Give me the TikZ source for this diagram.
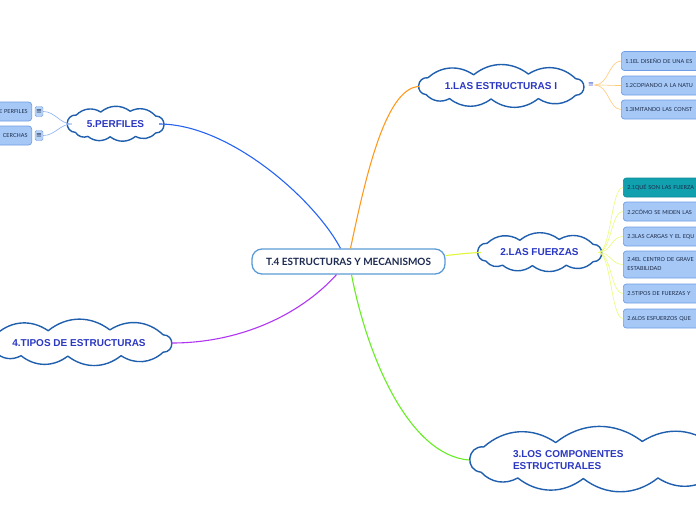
\documentclass[tikz,border=0pt]{standalone}
\usepackage{fontspec}
\setmainfont{Liberation Sans}
\newfontfamily\latofont{Lato}
\newfontfamily\djv{DejaVu Sans}
\definecolor{cloudline}{HTML}{1F5FAE}
\definecolor{cloudtext}{HTML}{2B38C2}
\definecolor{boxfill}{HTML}{A6C8F6}
\definecolor{boxline}{HTML}{6E9DE6}
\definecolor{boxtext}{HTML}{1B2A48}
\definecolor{tealfill}{HTML}{11A0AE}
\definecolor{tealline}{HTML}{0B8C9A}
\definecolor{centerline}{HTML}{5B9BD5}
\definecolor{centertext}{HTML}{1C2A50}
\definecolor{cblue}{HTML}{2563F0}
\definecolor{corange}{HTML}{FF9A1F}
\definecolor{cyellow}{HTML}{E2F53A}
\definecolor{cgreen}{HTML}{66EE22}
\definecolor{cpurple}{HTML}{B035F2}
\definecolor{lorange}{HTML}{FFC878}
\definecolor{lyellow}{HTML}{EAFA7A}
\definecolor{lblue}{HTML}{8AB0F2}
\definecolor{iconfill}{HTML}{B8D3F8}
\definecolor{iconblue}{HTML}{3A55D0}
\tikzset{
  cloudstroke/.style={draw=cloudline, line width=1.4pt, fill=white, line join=round},
  sidebump/.style={bend left=90, looseness=1.7},
  topbump/.style={bend left=38},
  cloudtextnode/.style={rectangle, inner sep=0pt,
    font=\bfseries\fontsize{10}{12}\selectfont, text=cloudtext},
  centerbox/.style={rectangle, rounded corners=10pt, draw=centerline, line width=1.3pt,
    fill=white, minimum width=193pt, minimum height=25pt,
    font=\latofont\bfseries\fontsize{10}{11}\selectfont, text=centertext},
  subbox/.style={rectangle, rounded corners=3pt, draw=boxline, line width=0.7pt,
    fill=boxfill, minimum height=19pt, text width=92pt, inner xsep=4pt, align=left,
    font=\latofont\fontsize{5.5}{9}\selectfont, text=boxtext, anchor=west},
  leftbox/.style={rectangle, rounded corners=3pt, draw=boxline, line width=0.7pt,
    fill=boxfill, minimum height=19pt, text width=64pt, inner xsep=4pt, align=right,
    font=\latofont\fontsize{5.5}{9}\selectfont, text=boxtext, anchor=east},
  iconbox/.style={rectangle, rounded corners=1.5pt, fill=iconfill, draw=boxline, line width=0.4pt,
    minimum width=8pt, minimum height=10pt, inner sep=0pt, font=\djv\fontsize{7}{7}\selectfont, text=boxtext},
  iconplain/.style={inner sep=0.5pt, font=\djv\fontsize{7}{7}\selectfont, text=iconblue},
  mainlink/.style={line width=1.1pt},
  sublink/.style={line width=0.6pt}
}
% #1 x, #2 y, #3 half width, #4 half height
\newcommand\cloudoutline[4]{%
  \draw[cloudstroke] ({#1-0.9*#3},{#2+0.42*#4}) to[sidebump] ({#1-0.88*#3},{#2-0.45*#4})
    to[topbump] ({#1-0.33*#3},{#2-0.6*#4}) to[topbump] ({#1+0.33*#3},{#2-0.64*#4})
    to[topbump] ({#1+0.9*#3},{#2-0.4*#4})
    to[sidebump] ({#1+0.9*#3},{#2+0.45*#4}) to[topbump] ({#1+0.45*#3},{#2+0.62*#4})
    to[topbump] ({#1-0.12*#3},{#2+0.64*#4}) to[topbump] ({#1-0.62*#3},{#2+0.62*#4})
    to[topbump] ({#1-0.9*#3},{#2+0.42*#4}) -- cycle;}
\begin{document}
\begin{tikzpicture}[x=1pt,y=-1pt]
\useasboundingbox (0,0) rectangle (696,520);
% central
\node[centerbox] (c) at (348.5,261.5) {T.4 ESTRUCTURAS Y MECANISMOS};
% clouds
\cloudoutline{501}{86.5}{83}{19.5}
\node[cloudtextnode, minimum width=164pt, minimum height=39pt] (cl1) at (501,86.5) {1.LAS ESTRUCTURAS I};
\cloudoutline{539.5}{252.5}{59.5}{20.5}
\node[cloudtextnode, minimum width=117pt, minimum height=41pt] (cl2) at (539.5,252.5) {2.LAS FUERZAS};
\cloudoutline{599}{460}{131}{29}
\node[cloudtextnode, minimum width=260pt, minimum height=58pt, text width=172pt, align=left] (cl3) at (599,460) {3.LOS COMPONENTES\\ESTRUCTURALES};
\cloudoutline{79}{343}{93.5}{20.5}
\node[cloudtextnode, minimum width=185pt, minimum height=41pt] (cl4) at (79,343) {4.TIPOS DE ESTRUCTURAS};
\cloudoutline{115.5}{124}{44.5}{20}
\node[cloudtextnode, minimum width=87pt, minimum height=40pt] (cl5) at (115.5,124) {5.PERFILES};
% main connectors
\draw[mainlink, cblue] (cl5.east) .. controls (230,124) and (315,200) .. ([xshift=-8pt]c.north);
\draw[mainlink, corange] ([xshift=2pt]c.north) .. controls (365,180) and (385,88) .. (cl1.west);
\draw[mainlink, cyellow] ([yshift=6pt]c.east) .. controls (460,254) and (468,253) .. (cl2.west);
\draw[mainlink, cgreen] ([xshift=3pt]c.south) .. controls (368,360) and (410,455) .. (cl3.west);
\draw[mainlink, cpurple] ([xshift=-12pt]c.south) .. controls (300,315) and (240,343) .. (cl4.east);
% cloud 1 children
\node[iconplain] (i1) at (591,85) {≡};
\node[subbox] (b11) at (621,61) {1.1EL DISEÑO DE UNA ES};
\node[subbox] (b12) at (621,85.5) {1.2COPIANDO A LA NATU};
\node[subbox] (b13) at (621,109.5) {1.3IMITANDO LAS CONST};
\foreach \b in {b11,b12,b13}
  \draw[sublink, lorange] (i1.east) .. controls +(14,0) and +(-12,0) .. (\b.west);
% cloud 2 children
\node[subbox, fill=tealfill, draw=tealline] (b21) at (623,187.5) {2.1QUÉ SON LAS FUERZA};
\node[subbox] (b22) at (623,211.5) {2.2CÓMO SE MIDEN LAS};
\node[subbox] (b23) at (623,236.5) {2.3LAS CARGAS Y EL EQU};
\node[subbox, minimum height=27pt] (b24) at (623,264.5) {2.4EL CENTRO DE GRAVE\\ESTABILIDAD};
\node[subbox] (b25) at (623,293.5) {2.5TIPOS DE FUERZAS Y};
\node[subbox] (b26) at (623,318.5) {2.6LOS ESFUERZOS QUE};
\foreach \b in {b21,b22,b23,b24,b25,b26}
  \draw[sublink, lyellow] (cl2.east) .. controls +(13,0) and +(-12,0) .. (\b.west);
% cloud 5 children
\node[leftbox] (b51) at (32,111.5) {E PERFILES};
\node[leftbox] (b52) at (32,135.5) {CERCHAS};
\node[iconbox] (i51) at (39,111.5) {≡};
\node[iconbox] (i52) at (39,135.5) {≡};
\draw[sublink, lblue] (cl5.west) .. controls +(-12,0) and +(12,0) .. (i51.east);
\draw[sublink, lblue] (cl5.west) .. controls +(-12,0) and +(12,0) .. (i52.east);
\end{tikzpicture}
\end{document}
